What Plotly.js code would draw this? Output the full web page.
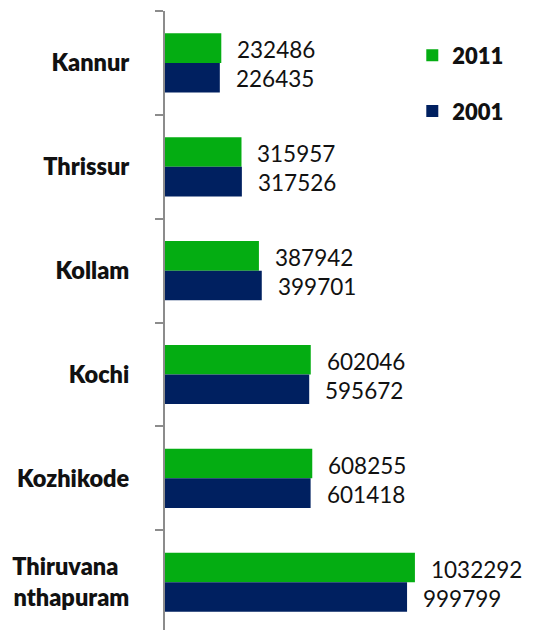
<!DOCTYPE html>
<html>
<head>
<meta charset="utf-8">
<script src="https://cdn.plot.ly/plotly-3.0.1.min.js"></script>
<style>html,body{margin:0;padding:0;background:#fff;}#chart{width:533px;height:630px;}</style>
</head>
<body>
<div id="chart"></div>
<script>
const categories = ["Kannur", "Thrissur", "Kollam", "Kochi", "Kozhikode", "Thiruvana&nbsp;&nbsp;<br>nthapuram"];
const values2011 = [232486, 315957, 387942, 602046, 608255, 1032292];
const values2001 = [226435, 317526, 399701, 595672, 601418, 999799];
const seriesNames = ["2011", "2001"];

const green = "#04AD12";
const navy = "#002060";
const labelFont = {family: "Lato, 'Open Sans', sans-serif", size: 22.5, color: "#111"};

const traces = [
  {type: "bar", orientation: "h", name: seriesNames[0], x: values2011, y: categories,
   marker: {color: green}, legendgroup: "a", hoverinfo: "skip"},
  {type: "bar", orientation: "h", name: seriesNames[1], x: values2001, y: categories,
   marker: {color: navy}, legendgroup: "b", hoverinfo: "skip"}
];

const annotations = [];
categories.forEach((c, i) => {
  annotations.push({x: values2011[i], y: c, xref: "x", yref: "y", text: String(values2011[i]),
    showarrow: false, xanchor: "left", yanchor: "middle", xshift: 14, yshift: 13, font: labelFont});
  annotations.push({x: values2001[i], y: c, xref: "x", yref: "y", text: String(values2001[i]),
    showarrow: false, xanchor: "left", yanchor: "middle", xshift: 14, yshift: -16, font: labelFont});
});

const layout = {
  width: 533, height: 630,
  margin: {l: 165, r: 0, t: 11, b: 0},
  paper_bgcolor: "#fff", plot_bgcolor: "#fff",
  barmode: "group", bargap: 0.43, bargroupgap: 0,
  showlegend: true,
  legend: {x: 0.672, xanchor: "left", y: 0.962, yanchor: "top", traceorder: "grouped",
    tracegroupgap: 24, font: {family: "Lato, sans-serif", size: 22, color: "#111", weight: 800},
    bgcolor: "rgba(0,0,0,0)"},
  xaxis: {range: [0, 1520000], showgrid: false, zeroline: false, showline: false,
    showticklabels: false, ticks: ""},
  yaxis: {type: "category", range: [5.46, -0.5], showgrid: false, zeroline: false,
    showline: true, linecolor: "#8c8c8c", linewidth: 2, ticks: "outside", tickson: "boundaries",
    ticklen: 8, tickwidth: 2, tickcolor: "#8c8c8c", ticklabelstandoff: 29,
    tickfont: {family: "Lato, sans-serif", size: 23.5, color: "#111", weight: 800}},
  annotations: annotations
};

Plotly.newPlot("chart", traces, layout, {staticPlot: true, displayModeBar: false});
</script>
</body>
</html>
